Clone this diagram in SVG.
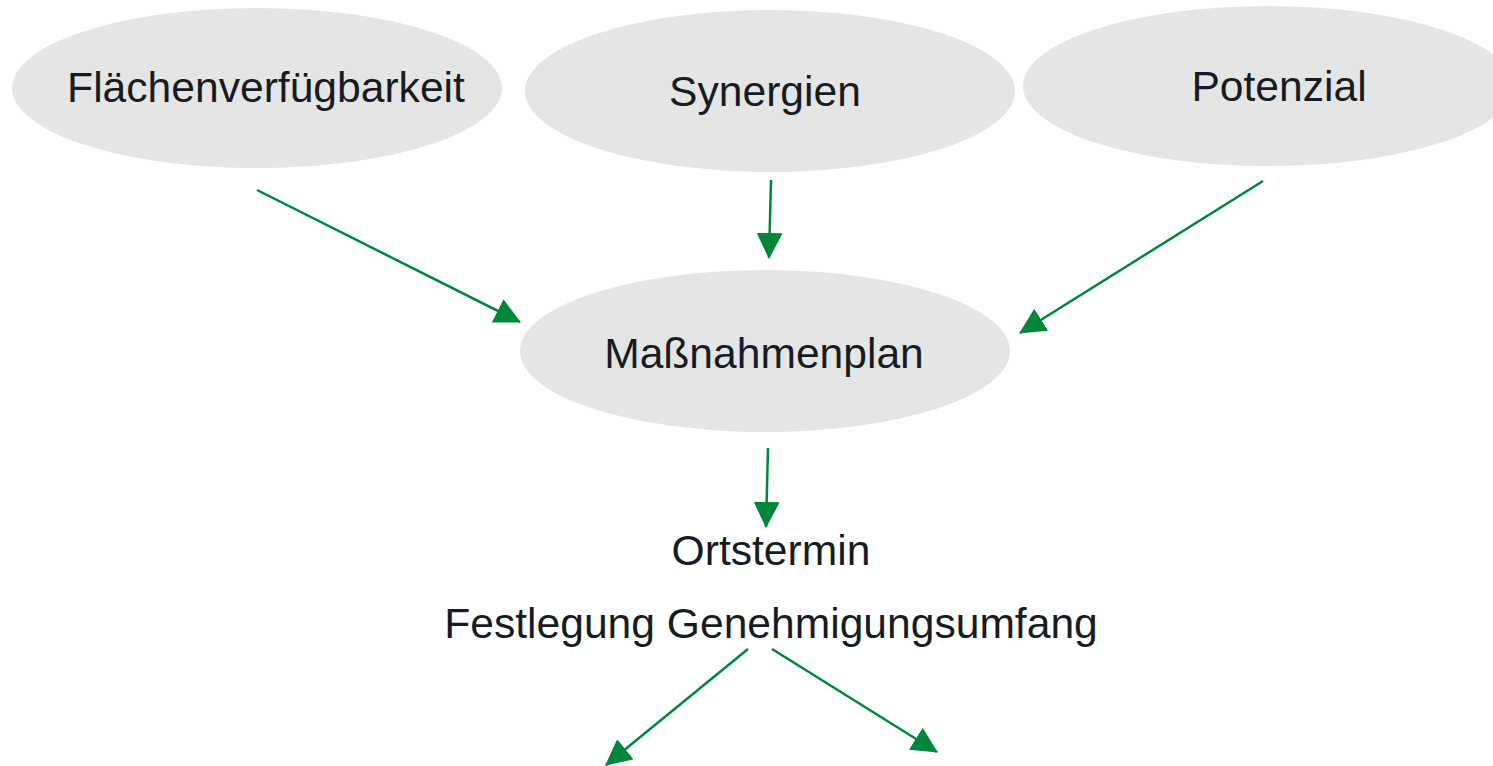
<svg xmlns="http://www.w3.org/2000/svg" width="1493" height="766" viewBox="0 0 1493 766">
<style>
.node ellipse{fill:#e5e5e5}
text{font-family:"Liberation Sans",Arial,sans-serif;font-size:42.6px;fill:#171c22;text-anchor:middle}
.conn line{stroke:#00873c;stroke-width:2.5;fill:none;marker-end:url(#ah)}
</style>
<defs>
<marker id="ah" viewBox="0 0 26 26" refX="25" refY="13" markerWidth="26" markerHeight="26" orient="auto" markerUnits="userSpaceOnUse">
<path d="M0,0 L26,13 L0,26 z" fill="#00873c"/>
</marker>
</defs>
<rect width="1493" height="766" fill="#ffffff"/>
<g id="n-flaechen" class="node"><ellipse cx="257" cy="88" rx="245" ry="80"/><text x="266" y="102">Flächenverfügbarkeit</text></g>
<g id="n-synergien" class="node"><ellipse cx="770" cy="91" rx="245" ry="81"/><text x="765" y="106">Synergien</text></g>
<g id="n-potenzial" class="node"><ellipse cx="1268" cy="86" rx="245" ry="80"/><text x="1279" y="101">Potenzial</text></g>
<g id="n-massnahmen" class="node"><ellipse cx="765" cy="351" rx="245" ry="81"/><text x="764" y="368">Maßnahmenplan</text></g>
<g id="n-ortstermin"><text x="771" y="565">Ortstermin</text></g>
<g id="n-festlegung"><text x="771" y="638">Festlegung Genehmigungsumfang</text></g>
<g id="connectors" class="conn">
<line x1="257" y1="190" x2="520" y2="322"/>
<line x1="771" y1="180" x2="769" y2="258"/>
<line x1="1263" y1="181" x2="1020" y2="333"/>
<line x1="768" y1="448" x2="766" y2="527"/>
<line x1="748" y1="649" x2="606" y2="765"/>
<line x1="772" y1="649" x2="937" y2="752"/>
</g>
</svg>
